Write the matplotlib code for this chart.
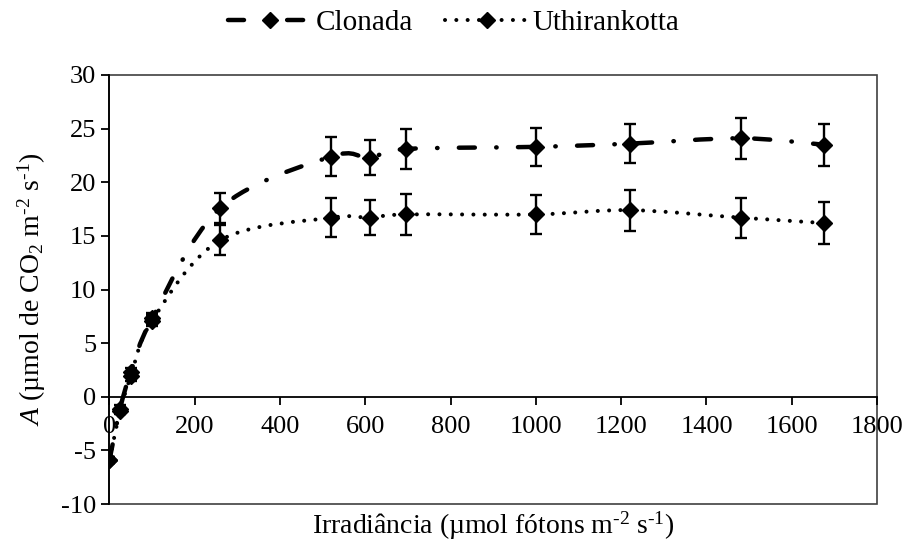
import matplotlib
matplotlib.use("Agg")
import matplotlib.pyplot as plt
import numpy as np
from matplotlib.path import Path
from matplotlib.patches import PathPatch
from matplotlib.lines import Line2D

# ─────────────────────────────────────────────
# Data
# ─────────────────────────────────────────────
irradiance = [0, 25, 50, 100, 260, 520, 610, 695, 1000, 1220, 1480, 1675]
clonada = [-5.9, -1.1, 2.3, 7.3, 17.6, 22.4, 22.3, 23.1, 23.3, 23.6, 24.1, 23.5]
clonada_err = [0.3, 0.3, 0.4, 0.5, 1.4, 1.8, 1.6, 1.9, 1.8, 1.85, 1.9, 1.95]
uthirankotta = [-5.9, -1.3, 1.9, 7.1, 14.6, 16.7, 16.7, 17.0, 17.0, 17.4, 16.7, 16.2]
uthirankotta_err = [0.3, 0.3, 0.4, 0.5, 1.4, 1.8, 1.65, 1.95, 1.8, 1.9, 1.85, 1.95]
series_names = ["Clonada", "Uthirankotta"]

x_ticks = list(range(0, 2000, 200))
y_ticks = list(range(-10, 35, 5))

plt.rcParams["font.family"] = ["Liberation Serif", "DejaVu Serif"]
plt.rcParams["mathtext.fontset"] = "custom"
plt.rcParams["mathtext.rm"] = "Liberation Serif"
plt.rcParams["mathtext.it"] = "Liberation Serif:italic"
plt.rcParams["axes.unicode_minus"] = False

# dash patterns (in units of line width)
DASH_DOT = (0, (3.6, 4.8, 0.1, 4.8))
ROUND_DOT = (0, (0.01, 2.8))


def smooth_path(xs, ys):
    """Excel-style smoothed line as cubic Bezier segments."""
    pts = np.column_stack([xs, ys]).astype(float)
    n = len(pts)
    verts = [pts[0]]
    codes = [Path.MOVETO]
    for i in range(n - 1):
        p_prev = pts[max(i - 1, 0)]
        p0 = pts[i]
        p1 = pts[i + 1]
        p_next = pts[min(i + 2, n - 1)]
        c1 = p0 + (p1 - p_prev) / 6.0
        c2 = p1 - (p_next - p0) / 6.0
        verts += [c1, c2, p1]
        codes += [Path.CURVE4] * 3
    return Path(verts, codes)


fig = plt.figure(figsize=(9.07, 5.47), dpi=100)
ax = fig.add_axes([0.1207, 0.0785, 0.8463, 0.7844])

styles = [
    (clonada, clonada_err, DASH_DOT, 3.2),
    (uthirankotta, uthirankotta_err, ROUND_DOT, 2.9),
]
handles = []
for (vals, errs, ls, lw), name in zip(styles, series_names):
    patch = PathPatch(smooth_path(irradiance, vals), fill=False, edgecolor="black",
                      linewidth=lw, linestyle=ls, capstyle="round", zorder=2)
    ax.add_patch(patch)
    ax.errorbar(irradiance, vals, yerr=errs, fmt="none", ecolor="black",
                elinewidth=1.7, capsize=4, capthick=1.7, zorder=3)
    ax.plot(irradiance, vals, linestyle="none", marker="D", markersize=8.5,
            color="black", zorder=4)
    handles.append(Line2D([], [], color="black", linewidth=lw, linestyle=ls,
                          dash_capstyle="round", marker="D", markersize=8.5,
                          label=name))

ax.set_xlim(0, 1800)
ax.set_ylim(-10, 30)
ax.set_xticks(x_ticks)
ax.set_yticks(y_ticks)

# x axis crosses at y = 0, frame drawn around the plot area
ax.spines["bottom"].set_position(("data", 0))
ax.spines["top"].set_visible(False)
ax.spines["right"].set_visible(False)
ax.spines["left"].set_linewidth(1.3)
ax.spines["bottom"].set_linewidth(1.3)
ax.patch.set_edgecolor("#404040")
ax.patch.set_linewidth(1.2)

ax.tick_params(axis="both", direction="out", length=6, width=1.3, labelsize=19)
ax.tick_params(axis="x", pad=8)

ax.set_xlabel("Irradiância (µmol fótons m$^{\\text{-2}}$ s$^{\\text{-1}}$)",
              fontsize=20, va="center")
ax.xaxis.set_label_coords(0.5, -0.05)
ax.set_ylabel("$\\it{A}$ (µmol de CO$_2$ m$^{\\text{-2}}$ s$^{\\text{-1}}$)", fontsize=20)
ax.yaxis.set_label_coords(-0.080, 0.5)

fig.legend(handles=handles, loc="center", bbox_to_anchor=(0.5, 0.958), ncol=2,
           frameon=False, fontsize=21, handlelength=2.9, handletextpad=0.1,
           columnspacing=1.1)

plt.savefig("out.png")
plt.close()
